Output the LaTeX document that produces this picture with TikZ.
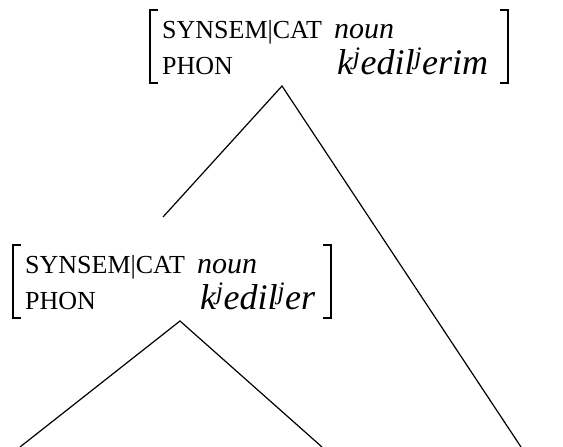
\documentclass[tikz,border=0pt]{standalone}
\usepackage{fontspec}
\setmainfont{Liberation Serif}
\begin{document}
\begin{tikzpicture}[x=1pt,y=-1pt,
  lbl/.style={anchor=base west,inner sep=0pt,font=\fontsize{26}{26}\selectfont},
  val/.style={anchor=base west,inner sep=0pt,font=\fontsize{30}{30}\selectfont\itshape},
  phon/.style={anchor=base west,inner sep=0pt,font=\fontsize{36}{36}\selectfont\itshape},
  edge/.style={line width=1.2pt},
  brk/.style={line width=1.2pt}]
\useasboundingbox (0,0) rectangle (563,447);
% top AVM
\draw[brk] (158,10) -- (150,10) -- (150,83) -- (158,83);
\draw[brk] (500,10) -- (508,10) -- (508,83) -- (500,83);
\node[lbl] (t1) at (162,38) {SYNSEM|CAT};
\node[val] (t2) at (334,38) {noun};
\node[lbl] (t3) at (162,74) {PHON};
\node[phon] (t4) at (337,74) {k\textsuperscript{j}edil\textsuperscript{j}erim};
\coordinate (ta) at (282,86);
\coordinate (tl) at (163,217);
\coordinate (tr) at (521,447);
\draw[edge] (tl) -- (ta) -- (tr);
% bottom AVM
\draw[brk] (21,245) -- (13,245) -- (13,318) -- (21,318);
\draw[brk] (323,245) -- (331,245) -- (331,318) -- (323,318);
\node[lbl] (b1) at (25,273) {SYNSEM|CAT};
\node[val] (b2) at (197,273) {noun};
\node[lbl] (b3) at (25,309) {PHON};
\node[phon] (b4) at (200,309) {k\textsuperscript{j}edil\textsuperscript{j}er};
\coordinate (ba) at (180,321);
\coordinate (bl) at (20,447);
\coordinate (br) at (322,447);
\draw[edge] (bl) -- (ba) -- (br);
\end{tikzpicture}
\end{document}
